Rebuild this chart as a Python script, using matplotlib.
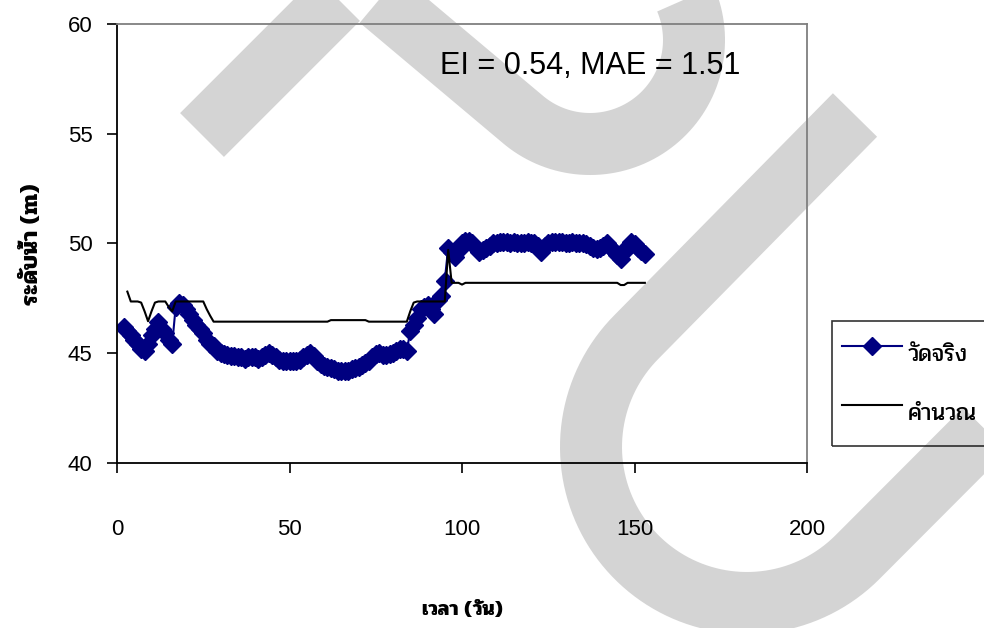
import numpy as np
import matplotlib
matplotlib.use("Agg")
import matplotlib.pyplot as plt
import matplotlib.font_manager as fm

# ---------------- data ----------------
days_obs = list(range(2, 154))
obs = [46.2, 46.0, 45.8, 45.6, 45.4, 45.2, 45.1, 45.4, 45.8, 46.1,   # 2-11
       46.4, 46.1, 45.9, 45.6, 45.4, 47.1, 47.3, 47.2, 47.0, 46.8,   # 12-21
       46.5, 46.3, 46.1, 45.9, 45.6, 45.4, 45.3, 45.1, 45.0, 44.95,  # 22-31
       44.9, 44.85, 44.85, 44.8, 44.8, 44.75, 44.8, 44.8, 44.8, 44.75,  # 32-41
       44.8, 44.9, 45.0, 44.9, 44.8, 44.7, 44.65, 44.65, 44.65, 44.65,  # 42-51
       44.65, 44.7, 44.8, 44.9, 45.0, 44.85, 44.65, 44.5, 44.4, 44.35,  # 52-61
       44.3, 44.25, 44.2, 44.2, 44.2, 44.2, 44.25, 44.3, 44.35, 44.45,  # 62-71
       44.55, 44.65, 44.8, 44.95, 45.0, 44.9, 44.9, 44.95, 45.0, 45.1,  # 72-81
       45.2, 45.2, 45.1, 46.0, 46.3, 46.6, 47.0, 47.1, 47.2, 47.0,     # 82-91
       46.8, 47.4, 47.6, 48.3, 49.8, 49.6, 49.4, 49.7, 50.0, 50.1,     # 92-101
       50.1, 50.0, 49.8, 49.6, 49.7, 49.8, 49.9, 50.0, 50.0, 50.05,    # 102-111
       50.05, 50.05, 50.0, 50.05, 50.0, 50.0, 50.0, 50.05, 50.0, 50.0,  # 112-121
       49.9, 49.6, 49.9, 50.0, 50.05, 50.05, 50.05, 50.05, 50.0, 50.0,  # 122-131
       50.05, 50.0, 50.0, 50.0, 49.95, 49.9, 49.8, 49.75, 49.8, 49.9,  # 132-141
       50.0, 49.85, 49.65, 49.45, 49.3, 49.6, 49.9, 50.05, 49.95, 49.8,  # 142-151
       49.65, 49.5]                                                   # 152-153

days_calc = list(range(3, 154))
calc = [47.8, 47.35, 47.35, 47.35, 47.3, 46.9, 46.45, 46.9, 47.3, 47.35,   # 3-12
        47.35, 47.35, 47.1, 46.9, 47.35, 47.35, 47.35, 47.35, 47.35, 47.35,  # 13-22
        47.35, 47.35, 47.35, 47.0, 46.7, 46.43, 46.43, 46.43, 46.43, 46.43,  # 23-32
        46.43, 46.43, 46.43, 46.43, 46.43, 46.43, 46.43, 46.43, 46.43, 46.43,  # 33-42
        46.43, 46.43, 46.43, 46.43, 46.43, 46.43, 46.43, 46.43, 46.43, 46.43,  # 43-52
        46.43, 46.43, 46.43, 46.43, 46.43, 46.43, 46.43, 46.43, 46.43, 46.5,   # 53-62
        46.5, 46.5, 46.5, 46.5, 46.5, 46.5, 46.5, 46.5, 46.5, 46.5,          # 63-72
        46.43, 46.43, 46.43, 46.43, 46.43, 46.43, 46.43, 46.43, 46.43, 46.43,  # 73-82
        46.43, 46.43, 46.9, 47.3, 47.35, 47.35, 47.35, 47.35, 47.35, 47.35,  # 83-92
        47.35, 47.35, 47.35, 49.7, 48.2, 48.2, 48.2, 48.12, 48.2, 48.2,      # 93-102
        48.2, 48.2, 48.2, 48.2, 48.2, 48.2, 48.2, 48.2, 48.2, 48.2,          # 103-112
        48.2, 48.2, 48.2, 48.2, 48.2, 48.2, 48.2, 48.2, 48.2, 48.2,          # 113-122
        48.2, 48.2, 48.2, 48.2, 48.2, 48.2, 48.2, 48.2, 48.2, 48.2,          # 123-132
        48.2, 48.2, 48.2, 48.2, 48.2, 48.2, 48.2, 48.2, 48.2, 48.2,          # 133-142
        48.2, 48.2, 48.2, 48.1, 48.1, 48.2, 48.2, 48.2, 48.2, 48.2,          # 143-152
        48.2]                                                               # 153

x_ticks = [0, 50, 100, 150, 200]
y_ticks = [40, 45, 50, 55, 60]
label_obs = "วัดจริง"
label_calc = "คำนวณ"
x_label = "เวลา (วัน)"
y_label = "ระดับน้ำ (m)"
stats_text = "EI = 0.54, MAE = 1.51"

# ---------------- fonts ----------------
installed = {f.name for f in fm.fontManager.ttflist}
thai_pref = [n for n in ("Pridi", "Sarabun", "Loma") if n in installed]
thai_family = thai_pref[:1] + ["DejaVu Sans"]
latin = "Liberation Sans"
plt.rcParams["font.family"] = [latin, "DejaVu Sans"]

W, H = 984, 628
fig = plt.figure(figsize=(W / 100, H / 100), dpi=100)
fig.patch.set_facecolor("white")

# ---------------- background watermark strokes ----------------
wax = fig.add_axes([0, 0, 1, 1], zorder=-5)
wax.set_xlim(0, W)
wax.set_ylim(H, 0)
wax.axis("off")
band_lw = 62 * 72 / 100
gray = "#d4d4d4"
kw = dict(color=gray, lw=band_lw, solid_capstyle="butt", clip_on=False)
# stroke 1: rising arm, falling arm, then a loop
wax.plot([202, 420], [135, -83], **kw)
th1 = np.radians(np.linspace(131, -40, 80))
wax.plot([300] + list(590 + 104 * np.cos(th1)),
         [-68] + list(40 + 104 * np.sin(th1)), solid_joinstyle="round", **kw)
# stroke 2: hairpin
th2 = np.radians(np.linspace(225, 45, 80))
wax.plot([855] + list(747 + 156 * np.cos(th2)) + [1150],
         [115] + list(447 + 156 * np.sin(th2)) + [264],
         solid_joinstyle="round", **kw)

# ---------------- main axes ----------------
x0, x1 = 117, 807
y0, y1 = 24, 462.7
ax = fig.add_axes([x0 / W, 1 - y1 / H, (x1 - x0) / W, (y1 - y0) / H], zorder=1)
ax.set_facecolor("none")

navy = "#000080"
ax.plot(days_obs, obs, color=navy, lw=1.5, marker="D", ms=9.2,
        mec=navy, mfc=navy, label=label_obs, zorder=2)
ax.plot(days_calc, calc, color="black", lw=1.5, label=label_calc, zorder=3)

ax.set_xlim(0, 200)
ax.set_ylim(40, 60)
ax.set_xticks(x_ticks)
ax.set_yticks(y_ticks)
for s in ("left", "bottom"):
    ax.spines[s].set_color("black")
    ax.spines[s].set_linewidth(1.3)
for s in ("top", "right"):
    ax.spines[s].set_color("#7f7f7f")
    ax.spines[s].set_linewidth(1.3)
ax.tick_params(axis="both", direction="out", length=7.5, width=1.2,
               labelsize=16, colors="black")
ax.tick_params(axis="y", pad=10)
ax.tick_params(axis="x", pad=33)

ax.text(93.5, 58.1, stats_text, fontsize=22, ha="left", va="center",
        family=[latin, "DejaVu Sans"])

ax.set_xlabel(x_label, family=thai_family, fontsize=15, fontweight="bold")
ax.xaxis.label.set_va("center")
ax.xaxis.set_label_coords(0.5, -(610 - y1) / (y1 - y0))
ax.set_ylabel(y_label, family=thai_family, fontsize=17, fontweight="bold")
ax.yaxis.label.set_va("center")
ax.yaxis.set_label_coords(-(x0 - 32) / (x1 - x0), 1 - (244 - y0) / (y1 - y0))

handles, labels = ax.get_legend_handles_labels()
leg = fig.legend(handles, labels, loc="upper left",
                 bbox_to_anchor=(832 / W, 1 - 321 / H, 0.2, 0.0), mode="expand",
                 prop=fm.FontProperties(family=thai_family, size=17,
                                        weight="normal"),
                 frameon=True, fancybox=False, shadow=False,
                 handlelength=2.55, handletextpad=0.25, borderpad=0.42,
                 handleheight=2.63, labelspacing=0.55, borderaxespad=0)
leg.get_frame().set_edgecolor("black")
leg.get_frame().set_linewidth(1.2)
leg.get_frame().set_facecolor("none")

fig.savefig("out.png", dpi=100)
